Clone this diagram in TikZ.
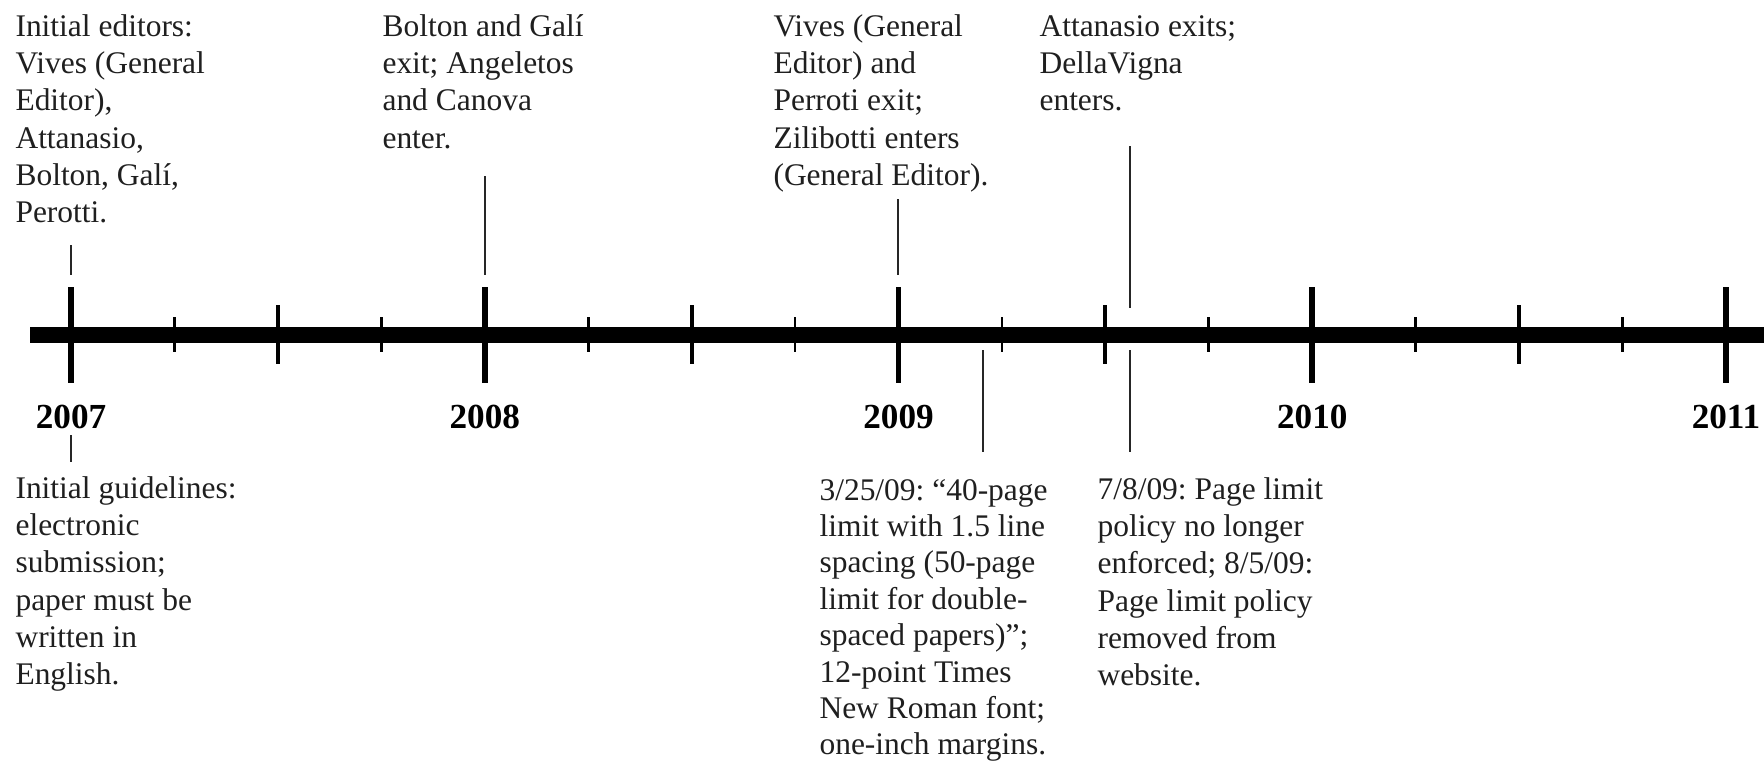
\documentclass[tikz,border=0pt]{standalone}
\usepackage{fontspec}
\setmainfont{Liberation Serif}
\frenchspacing
\begin{document}
\begin{tikzpicture}[x=0.375pt,y=-0.375pt,
  txt/.style={anchor=north west, inner sep=0pt, align=left, text=black!88,
    font=\fontsize{11.8}{13.95}\selectfont\frenchspacing},
  txttight/.style={txt, font=\fontsize{11.8}{13.65}\selectfont\frenchspacing},
  yr/.style={anchor=base, inner sep=0pt, font=\fontsize{13.2}{15}\selectfont\bfseries},
  conn/.style={line width=0.75pt, black!85},
  axisline/.style={line width=6pt},
  ytick/.style={line width=2.2pt},
  htick/.style={line width=1.5pt},
  qtick/.style={line width=1pt}]
\useasboundingbox (0,0) rectangle (1764,763);

% axis
\coordinate (axL) at (30,335);
\coordinate (axR) at (1764,335);
\draw[axisline] (axL) -- (axR);

% ticks
\foreach \i in {0,...,4}{
  \draw[ytick] ({71+413.75*\i},287) -- ({71+413.75*\i},383);
}
\foreach \i in {0,...,3}{
  \draw[htick] ({71+413.75*\i+206.875},305) -- ({71+413.75*\i+206.875},364);
  \draw[qtick] ({71+413.75*\i+103.44},317) -- ({71+413.75*\i+103.44},352);
  \draw[qtick] ({71+413.75*\i+310.31},317) -- ({71+413.75*\i+310.31},352);
}

% year labels
\node[yr] (y2007) at (71,428) {2007};
\node[yr] (y2008) at (484.75,428) {2008};
\node[yr] (y2009) at (898.5,428) {2009};
\node[yr] (y2010) at (1312.25,428) {2010};
\node[yr] (y2011) at (1726,428) {2011};

% text blocks above
\node[txt] (t1) at (15,10) {\strut Initial editors:\\Vives (General\\Editor),\\Attanasio,\\Bolton, Galí,\\Perotti.};
\node[txt] (t2) at (382,10) {\strut Bolton and Galí\\exit; Angeletos\\and Canova\\enter.};
\node[txt] (t3) at (773,10) {\strut Vives (General\\Editor) and\\Perroti exit;\\Zilibotti enters\\(General Editor).};
\node[txt] (t4) at (1039,10) {\strut Attanasio exits;\\DellaVigna\\enters.};

% text blocks below
\node[txt] (b1) at (15,472) {\strut Initial guidelines:\\electronic\\submission;\\paper must be\\written in\\English.};
\node[txttight] (b2) at (819,474) {\strut 3/25/09: “40-page\\limit with 1.5 line\\spacing (50-page\\limit for double-\\spaced papers)”;\\12-point Times\\New Roman font;\\one-inch margins.};
\node[txt] (b3) at (1097,473) {\strut 7/8/09: Page limit\\policy no longer\\enforced; 8/5/09:\\Page limit policy\\removed from\\website.};

% connectors
\coordinate (c1a) at (71,245);   \coordinate (c1b) at (71,275);
\coordinate (c2a) at (485,176);  \coordinate (c2b) at (485,275);
\coordinate (c3a) at (898,199);  \coordinate (c3b) at (898,275);
\coordinate (c4a) at (1130,146); \coordinate (c4b) at (1130,308);
\coordinate (d1a) at (71,435);   \coordinate (d1b) at (71,462);
\coordinate (d2a) at (983,350);  \coordinate (d2b) at (983,452);
\coordinate (d3a) at (1130,350); \coordinate (d3b) at (1130,452);
\draw[conn] (c1a) -- (c1b);
\draw[conn] (c2a) -- (c2b);
\draw[conn] (c3a) -- (c3b);
\draw[conn] (c4a) -- (c4b);
\draw[conn] (d1a) -- (d1b);
\draw[conn] (d2a) -- (d2b);
\draw[conn] (d3a) -- (d3b);
\end{tikzpicture}
\end{document}
